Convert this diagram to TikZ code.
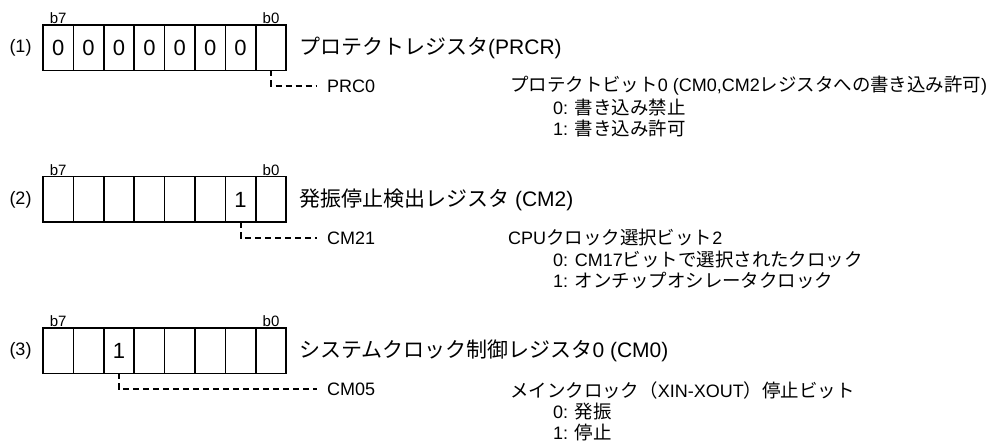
\documentclass[tikz,border=0pt]{standalone}
\usepackage{fontspec}
\setmainfont{Liberation Sans}
\newfontfamily\jp{Noto Sans CJK JP}
\newfontfamily\jpd[Scale=1.025]{Noto Sans CJK JP}
\begin{document}
\begin{tikzpicture}[x=1pt,y=-1pt,
  cell/.style={draw,line width=1.5pt,minimum width=30.4pt,minimum height=45.5pt,inner sep=0pt,outer sep=0pt,font=\fontsize{22}{22}\selectfont},
  bitlbl/.style={inner sep=0pt,font=\fontsize{15}{15}\selectfont},
  numlbl/.style={inner sep=0pt,font=\fontsize{18}{18}\selectfont},
  title/.style={anchor=west,inner sep=0pt,font=\fontsize{21}{21}\selectfont},
  fld/.style={anchor=west,inner sep=0pt,font=\fontsize{18}{18}\selectfont},
  desc/.style={anchor=west,inner sep=0pt,font=\fontsize{18}{18}\selectfont},
  conn/.style={line width=2pt,dash pattern=on 6pt off 4pt,shorten >=10pt}]
\useasboundingbox (0,0) rectangle (995,443);
% register rows
\foreach \r/\yy/\vals in {1/47.75/{0,0,0,0,0,0,0,{}},2/199.5/{{},{},{},{},{},{},1,{}},3/350.5/{{},{},1,{},{},{},{},{}}}{
  \foreach \v [count=\i from 0] in \vals {
    \pgfmathtruncatemacro\bit{7-\i}
    \node[cell] (r\r c\bit) at ({43+15.2+30.4*\i},\yy) {\v};
  }
  \node[bitlbl] (r\r b7) at ([yshift=7pt]r\r c7.north) {b7};
  \node[bitlbl] (r\r b0) at ([yshift=7pt]r\r c0.north) {b0};
  \node[numlbl] (r\r n) at (20.5,\yy) {(\r)};
}
% register 1
\node[title] (t1) at (299,47.75) {{\jp プロテクトレジスタ}(PRCR)};
\node[fld] (f1) at (327,86) {PRC0};
\draw[conn] (r1c0.south) |- (f1.west);
\node[desc] (d1a) at (510,86) {{\jpd プロテクトビット}0 (CM0,CM2{\jpd レジスタへの書き込み許可})};
\node[desc] (d1b) at (553,107.3) {0: {\jpd 書き込み禁止}};
\node[desc] (d1c) at (553,128.6) {1: {\jpd 書き込み許可}};
% register 2
\node[title] (t2) at (299,199.5) {{\jp 発振停止検出レジスタ} (CM2)};
\node[fld] (f2) at (327,238) {CM21};
\draw[conn] (r2c1.south) |- (f2.west);
\node[desc] (d2a) at (508,238) {CPU{\jpd クロック選択ビット}2};
\node[desc] (d2b) at (553,259.3) {0: CM17{\jpd ビットで選択されたクロック}};
\node[desc] (d2c) at (553,280.6) {1: {\jpd オンチップオシレータクロック}};
% register 3
\node[title] (t3) at (299,350.5) {{\jp システムクロック制御レジスタ}0 (CM0)};
\node[fld] (f3) at (327,389) {CM05};
\draw[conn] (r3c5.south) |- (f3.west);
\node[desc] (d3a) at (510,390) {{\jpd メインクロック（}XIN-XOUT{\jpd ）停止ビット}};
\node[desc] (d3b) at (553,411.3) {0: {\jpd 発振}};
\node[desc] (d3c) at (553,432.3) {1: {\jpd 停止}};
\end{tikzpicture}
\end{document}
